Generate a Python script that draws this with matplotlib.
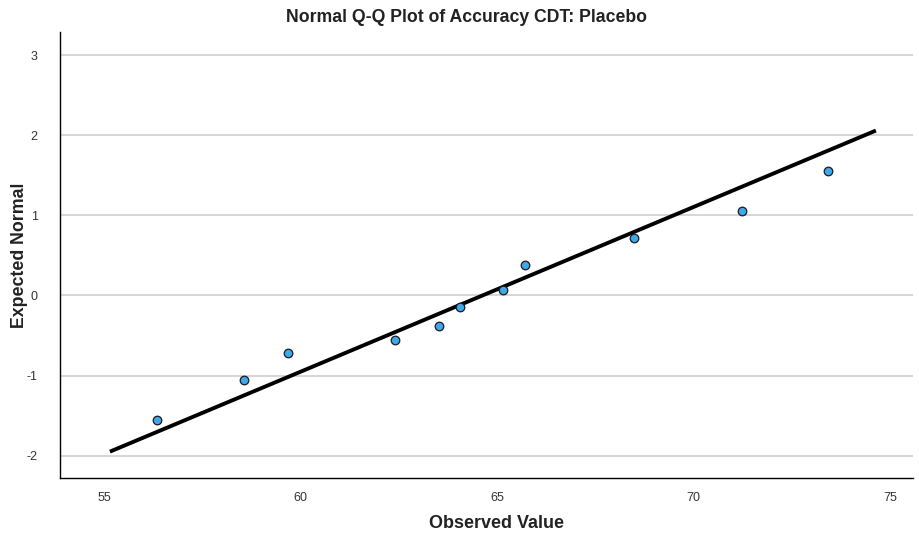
import numpy as np
import matplotlib.pyplot as plt

OUT_FIGURE = "out.png"

plt.rcParams["font.family"] = ["Liberation Sans", "DejaVu Sans"]
plt.rcParams["axes.unicode_minus"] = False

observed = [56.35, 58.55, 59.67, 62.41, 63.53, 64.06, 65.15, 65.71, 68.48, 71.24, 73.43]
expected = [-1.56, -1.05, -0.72, -0.55, -0.38, -0.15, 0.07, 0.38, 0.72, 1.05, 1.56]

# reference line: y = (x - mean) / sd
line_x = [55.15, 74.64]
line_mean = 64.63
line_sd = 4.86

x_ticks = [55, 60, 65, 70, 75]
y_ticks = [-2, -1, 0, 1, 2, 3]

fig = plt.figure(figsize=(9.2, 5.35), dpi=100)
ax = fig.add_axes([0.0652, 0.1065, 0.927, 0.8336])

for yt in y_ticks:
    ax.axhline(yt, color="#d0d0d0", linewidth=1.2, zorder=0)

lx = np.array(line_x)
ax.plot(lx, (lx - line_mean) / line_sd, color="black", linewidth=2.8,
        solid_capstyle="butt", zorder=2)

ax.scatter(observed, expected, s=38, color="#3fa7ec", edgecolor="#1a1a1a",
           linewidth=0.9, zorder=3)

ax.set_xlim(53.88, 75.58)
ax.set_ylim(-2.28, 3.29)
ax.set_xticks(x_ticks)
ax.set_yticks(y_ticks)
ax.tick_params(length=0, labelsize=9, colors="#333333", pad=10)
ax.tick_params(axis="y", pad=16)

for side in ["top", "right"]:
    ax.spines[side].set_visible(False)
for side in ["left", "bottom"]:
    ax.spines[side].set_color("black")
    ax.spines[side].set_linewidth(1.0)

fig.text(0.507, 0.968, "Normal Q-Q Plot of Accuracy CDT: Placebo",
         ha="center", va="center", fontsize=12.7, fontweight="bold", color="#222222")
fig.text(0.540, 0.022, "Observed Value", ha="center", va="center",
         fontsize=13, fontweight="bold", color="#222222")
fig.text(0.021, 0.523, "Expected Normal", ha="center", va="center", rotation=90,
         fontsize=12.8, fontweight="bold", color="#222222")

plt.savefig(OUT_FIGURE, dpi=100)
plt.close()
